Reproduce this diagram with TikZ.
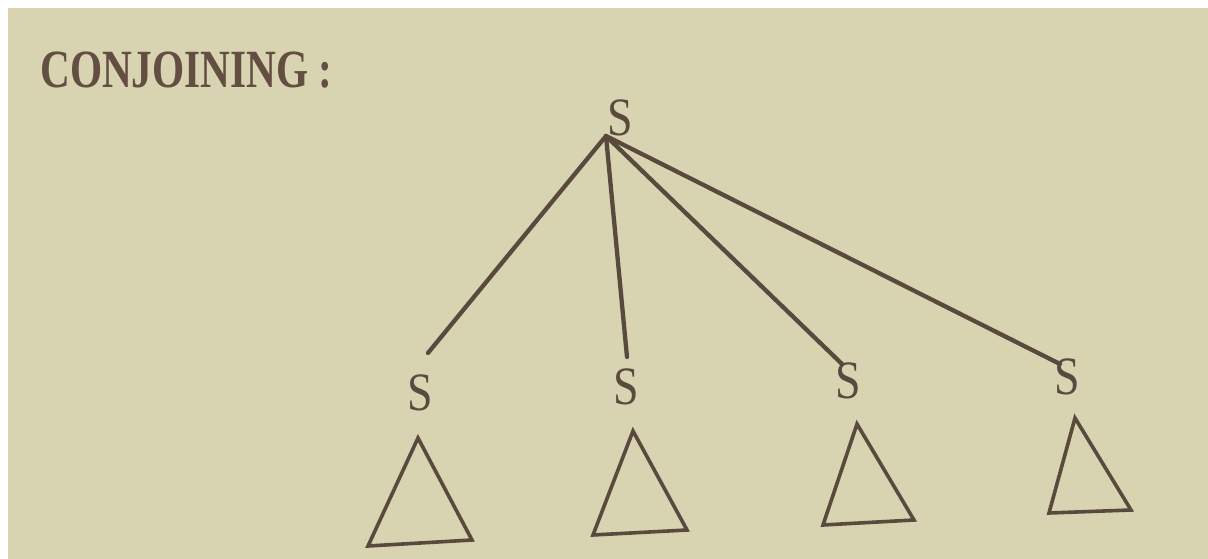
\documentclass[tikz,border=0pt]{standalone}
\usepackage{fontspec}
\setmainfont{Liberation Serif}
\definecolor{paper}{HTML}{D8D3B0}
\definecolor{ink}{HTML}{5A4A3E}
\definecolor{titleink}{HTML}{634E42}
\tikzset{
  lbl/.style={inner sep=0pt, text=ink, font=\fontsize{54}{54}\selectfont},
  edge/.style={draw=ink, line width=4.3pt, line cap=round},
  tri/.style={draw=ink, line width=3.6pt, line join=miter}
}
\begin{document}
\begin{tikzpicture}[x=1pt,y=-1pt]
\useasboundingbox (0,0) rectangle (1208,559);
\fill[white] (0,0) rectangle (1208,559);
\fill[paper] (8,8) rectangle (1208,559);
% title
\node[anchor=base west, inner sep=0pt, text=titleink] (title) at (40,88)
  {\scalebox{0.86}[1.12]{\fontsize{48}{48}\selectfont\bfseries CONJOINING :}};
% root and children
\node[lbl] (root) at (620,118) {\scalebox{0.85}[1]{S}};
\node[lbl] (s1) at (420,393) {\scalebox{0.85}[1]{S}};
\node[lbl] (s2) at (626,387) {\scalebox{0.85}[1]{S}};
\node[lbl] (s3) at (848,381) {\scalebox{0.85}[1]{S}};
\node[lbl] (s4) at (1067,377) {\scalebox{0.85}[1]{S}};
\coordinate (apex) at (606,136);
\coordinate (e1) at (428,353);
\coordinate (e2) at (627,357);
\coordinate (e3) at (842,364);
\coordinate (e4) at (1060,364);
\draw[edge] (apex) -- (e1);
\draw[edge] (apex) -- (e2);
\draw[edge] (apex) -- (e3);
\draw[edge] (apex) -- (e4);
% triangles
\draw[tri] (418,438) -- (368,546) -- (472,540) -- cycle;
\draw[tri] (633,431) -- (593,535) -- (687,530) -- cycle;
\draw[tri] (857,424) -- (823,525) -- (914,520) -- cycle;
\draw[tri] (1075,418) -- (1049,513) -- (1131,510) -- cycle;
\end{tikzpicture}
\end{document}
